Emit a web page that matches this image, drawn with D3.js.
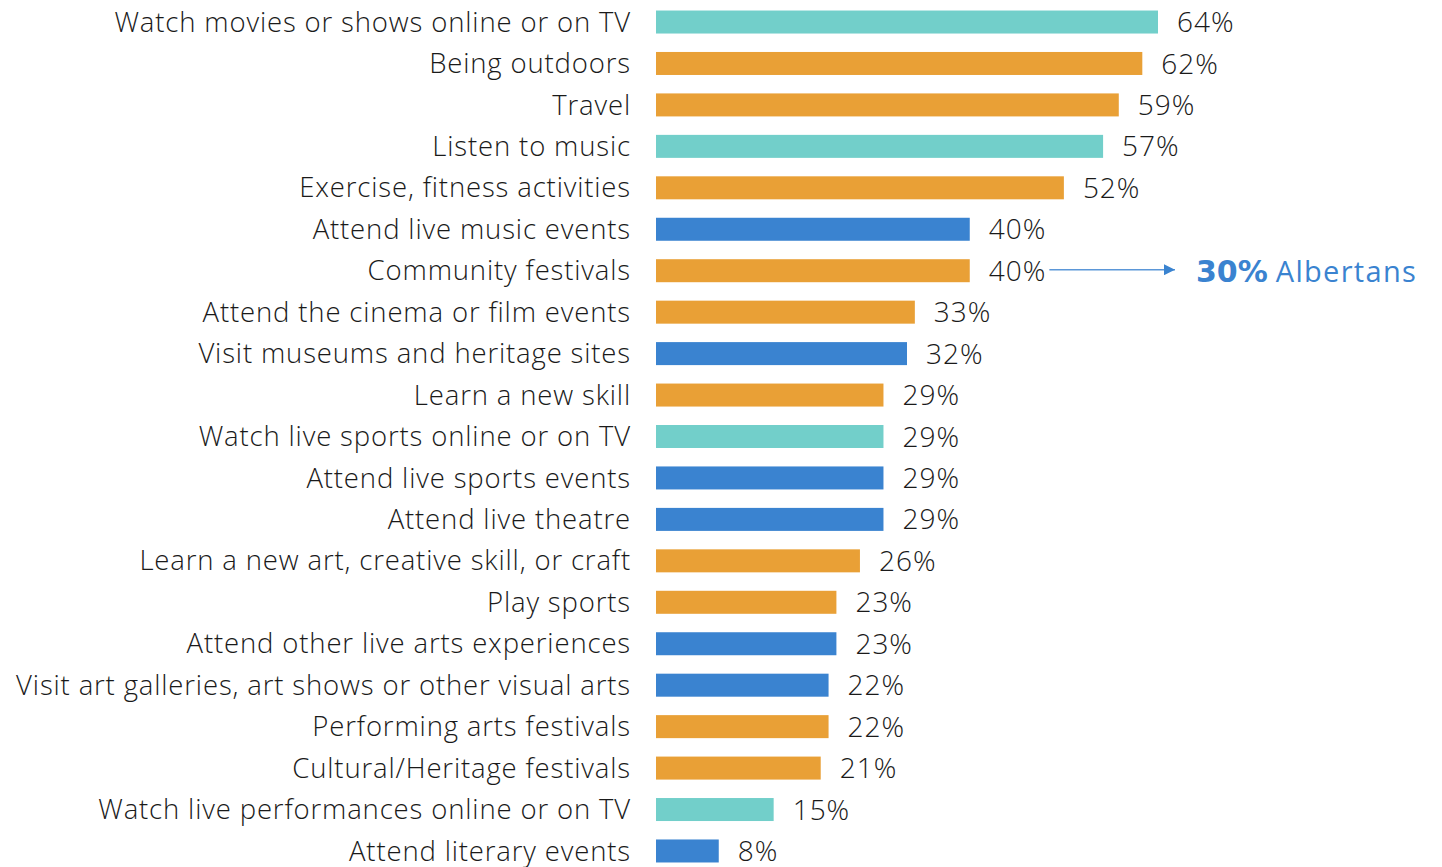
<!DOCTYPE html>
<html>
<head>
<meta charset="utf-8">
<script src="https://cdn.jsdelivr.net/npm/d3@7"></script>
<style>
  html, body { margin: 0; padding: 0; background: #ffffff; }
  svg { display: block; }
</style>
</head>
<body>
<svg id="chart" width="1442" height="867"></svg>
<script>
// Activities and the share of respondents who take part in each
const categories = [
  "Watch movies or shows online or on TV",
  "Being outdoors",
  "Travel",
  "Listen to music",
  "Exercise, fitness activities",
  "Attend live music events",
  "Community festivals",
  "Attend the cinema or film events",
  "Visit museums and heritage sites",
  "Learn a new skill",
  "Watch live sports online or on TV",
  "Attend live sports events",
  "Attend live theatre",
  "Learn a new art, creative skill, or craft",
  "Play sports",
  "Attend other live arts experiences",
  "Visit art galleries, art shows or other visual arts",
  "Performing arts festivals",
  "Cultural/Heritage festivals",
  "Watch live performances online or on TV",
  "Attend literary events"
];
const values = [64, 62, 59, 57, 52, 40, 40, 33, 32, 29, 29, 29, 29, 26, 23, 23, 22, 22, 21, 15, 8];
const groups = [
  "screen", "leisure", "leisure", "screen", "leisure", "live", "leisure", "leisure", "live",
  "leisure", "screen", "live", "live", "leisure", "leisure", "live", "live", "leisure",
  "leisure", "screen", "live"
];
const groupNames = ["screen", "leisure", "live"];
const groupColors = ["#72cfca", "#e9a036", "#3a83d0"];

// Callout beside "Community festivals"
const calloutCategory = "Community festivals";
const calloutValue = "30%";
const calloutText = "Albertans";

const svg = d3.select("#chart");

const x = d3.scaleLinear().domain([0, 64]).range([656, 1158]);
const y = d3.scaleBand()
  .domain(categories)
  .range([1.3, 871.7])
  .paddingInner(0.445)
  .paddingOuter(0.2225);
const color = d3.scaleOrdinal().domain(groupNames).range(groupColors);

const rows = categories.map((c, i) => ({ cat: c, value: values[i], group: groups[i] }));

const labelFont = "'Open Sans', 'Noto Sans', sans-serif";

// Bars
svg.append("g")
  .selectAll("rect")
  .data(rows)
  .join("rect")
  .attr("x", x(0))
  .attr("y", d => y(d.cat))
  .attr("width", d => x(d.value) - x(0))
  .attr("height", y.bandwidth())
  .attr("fill", d => color(d.group));

// Category labels
svg.append("g")
  .selectAll("text")
  .data(rows)
  .join("text")
  .attr("x", 631)
  .attr("y", d => y(d.cat) + y.bandwidth() / 2)
  .attr("dy", "0.35em")
  .attr("text-anchor", "end")
  .attr("font-family", labelFont)
  .attr("font-weight", 300)
  .attr("font-size", 27.5)
  .attr("letter-spacing", 0.85)
  .attr("fill", "#1a1a1a")
  .text(d => d.cat);

// Value labels
const valueLabels = svg.append("g")
  .selectAll("text")
  .data(rows)
  .join("text")
  .attr("x", d => x(d.value) + 19)
  .attr("y", d => y(d.cat) + y.bandwidth() / 2)
  .attr("dy", "0.36em")
  .attr("font-family", labelFont)
  .attr("font-weight", 300)
  .attr("font-size", 28)
  .attr("letter-spacing", 1)
  .attr("fill", "#1a1a1a")
  .text(d => d.value + "%");

// Callout arrow and text
const defs = svg.append("defs");
defs.append("marker")
  .attr("id", "arrowhead")
  .attr("viewBox", "0 0 10 10")
  .attr("refX", 10)
  .attr("refY", 5)
  .attr("markerWidth", 11)
  .attr("markerHeight", 11)
  .attr("markerUnits", "userSpaceOnUse")
  .attr("orient", "auto")
  .append("path")
  .attr("d", "M0,0 L10,5 L0,10 Z")
  .attr("fill", "#3a83d0");

const calloutNode = valueLabels.filter(d => d.cat === calloutCategory).node();
const calloutRow = rows.find(d => d.cat === calloutCategory);
const cy = y(calloutCategory) + y.bandwidth() / 2;
const arrowStart = x(calloutRow.value) + 19 + calloutNode.getComputedTextLength() + 3;

svg.append("line")
  .attr("x1", arrowStart)
  .attr("x2", 1175)
  .attr("y1", cy - 1)
  .attr("y2", cy - 1)
  .attr("stroke", "#5b97d8")
  .attr("stroke-width", 1.5)
  .attr("marker-end", "url(#arrowhead)");

const callout = svg.append("text")
  .attr("x", 1196)
  .attr("y", cy)
  .attr("dy", "0.36em")
  .attr("font-size", 30)
  .attr("fill", "#3a83d0");
callout.append("tspan")
  .attr("font-family", "'DejaVu Sans', sans-serif")
  .attr("font-weight", 700)
  .attr("font-size", 30)
  .text(calloutValue);
callout.append("tspan")
  .attr("font-family", labelFont)
  .attr("font-weight", 400)
  .attr("font-size", 29)
  .attr("letter-spacing", 1.3)
  .attr("dx", 8)
  .text(calloutText);
</script>
</body>
</html>
